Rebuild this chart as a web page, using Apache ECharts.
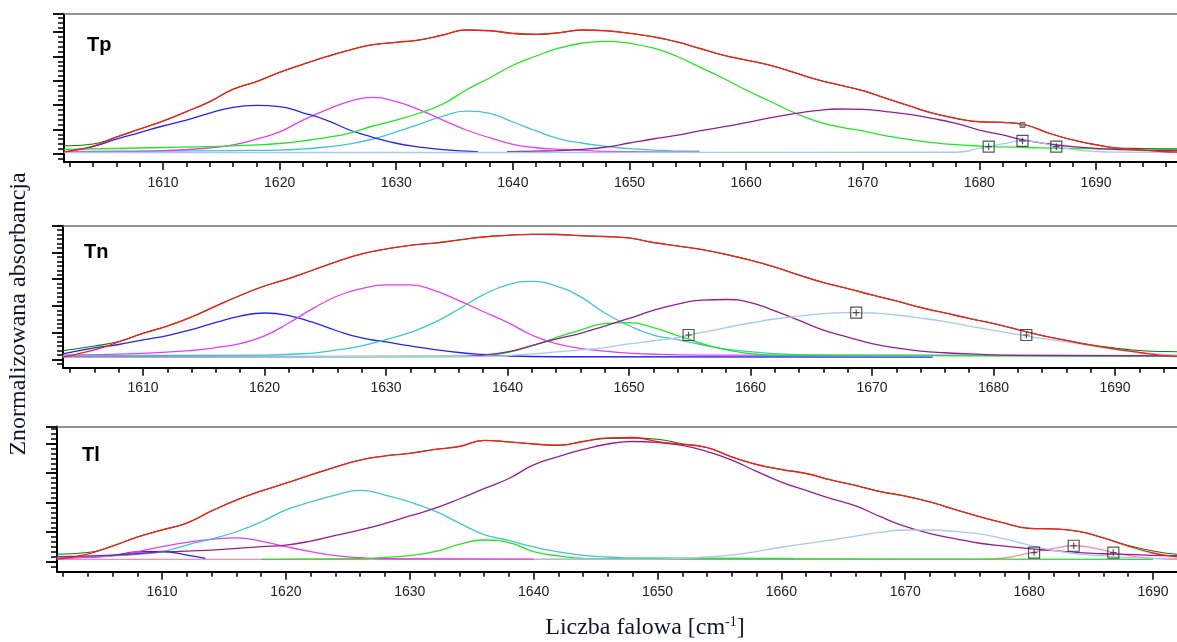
<!DOCTYPE html>
<html>
<head>
<meta charset="utf-8">
<script src="https://cdn.jsdelivr.net/npm/echarts@6/dist/echarts.min.js"></script>
<style>
  html, body { margin: 0; padding: 0; background: #fff; }
  #chart { width: 1177px; height: 642px; }
</style>
</head>
<body>
<div id="chart"></div>
<script>
// ---- Amide I band deconvolution: three samples (Tp, Tn, Tl) ----
// Values are normalized absorbance vs. wavenumber [cm-1], as [x, y] pairs.

const panelNames = ['Tp', 'Tn', 'Tl'];
const xTickLabels = [1610, 1620, 1630, 1640, 1650, 1660, 1670, 1680, 1690];
const tpYTicks = [0, 0.2, 0.4, 0.6, 0.8, 1.0, 1.1498];
const tnYTicks = [0, 0.2, 0.4, 0.6, 0.8, 1.0];
const tlYTicks = [0, 0.2, 0.4, 0.6, 0.8, 0.9166];

// Tp
const tpMeasured = [[1601.5,0.016],[1602,0.022],[1604,0.063],[1606,0.137],[1608,0.203],[1610,0.269],[1612,0.346],[1614,0.428],[1616,0.530],[1618,0.593],[1620,0.670],[1622,0.736],[1624,0.798],[1626,0.853],[1628,0.897],[1630,0.917],[1632,0.936],[1634,0.977],[1636,1.018],[1638,1.012],[1640,0.991],[1642,0.983],[1644,0.996],[1646,1.018],[1648,1.012],[1650,0.991],[1652,0.963],[1654,0.922],[1656,0.867],[1658,0.812],[1660,0.771],[1662,0.730],[1664,0.672],[1666,0.612],[1668,0.565],[1670,0.519],[1672,0.456],[1674,0.393],[1676,0.333],[1678,0.291],[1680,0.263],[1682,0.258],[1684,0.236],[1686,0.168],[1688,0.113],[1690,0.072],[1692,0.044],[1694,0.030],[1696,0.016],[1697,0.014]];
const tpFit = [[1601.5,0.066],[1602,0.066],[1604,0.080],[1606,0.137],[1608,0.203],[1610,0.269],[1612,0.346],[1614,0.428],[1616,0.530],[1618,0.593],[1620,0.670],[1622,0.736],[1624,0.798],[1626,0.853],[1628,0.897],[1630,0.917],[1632,0.936],[1634,0.977],[1636,1.018],[1638,1.012],[1640,0.989],[1642,0.981],[1644,0.996],[1646,1.018],[1648,1.012],[1650,0.991],[1652,0.963],[1654,0.922],[1656,0.867],[1658,0.812],[1660,0.771],[1662,0.730],[1664,0.672],[1666,0.612],[1668,0.565],[1670,0.519],[1672,0.456],[1674,0.393],[1676,0.333],[1678,0.291],[1680,0.263],[1682,0.258],[1684,0.236],[1686,0.168],[1688,0.113],[1690,0.075],[1692,0.047],[1694,0.043],[1696,0.039],[1697,0.039]];
const tpBlue = [[1601.5,0.014],[1602,0.022],[1604,0.059],[1606,0.119],[1608,0.173],[1610,0.228],[1612,0.277],[1614,0.333],[1616,0.382],[1618,0.398],[1620,0.387],[1622,0.337],[1624,0.277],[1626,0.195],[1628,0.135],[1630,0.086],[1632,0.055],[1634,0.033],[1636,0.022],[1637,0.016]];
const tpMagenta = [[1601.5,0.014],[1606,0.018],[1610,0.025],[1614,0.047],[1616,0.072],[1618,0.119],[1620,0.179],[1622,0.277],[1624,0.360],[1626,0.431],[1628,0.463],[1630,0.428],[1632,0.360],[1634,0.277],[1636,0.195],[1638,0.132],[1640,0.077],[1642,0.049],[1644,0.036],[1646,0.028],[1648,0.018],[1656,0.012]];
const tpLime = [[1601.5,0.036],[1606,0.043],[1610,0.051],[1614,0.059],[1618,0.072],[1620,0.084],[1622,0.105],[1624,0.133],[1626,0.170],[1628,0.228],[1630,0.277],[1632,0.335],[1634,0.409],[1636,0.524],[1638,0.623],[1640,0.728],[1642,0.804],[1644,0.870],[1646,0.911],[1648,0.925],[1650,0.909],[1652,0.870],[1654,0.804],[1656,0.714],[1658,0.623],[1660,0.524],[1662,0.434],[1664,0.343],[1666,0.269],[1668,0.220],[1670,0.187],[1672,0.146],[1674,0.117],[1676,0.092],[1678,0.074],[1680,0.063],[1684,0.051],[1688,0.043],[1697,0.039]];
const tpCyan = [[1601.5,0.018],[1610,0.022],[1616,0.026],[1620,0.030],[1622,0.039],[1624,0.055],[1626,0.080],[1628,0.121],[1630,0.179],[1632,0.244],[1634,0.310],[1636,0.351],[1638,0.331],[1640,0.261],[1642,0.187],[1644,0.123],[1646,0.086],[1648,0.061],[1650,0.041],[1652,0.030],[1654,0.022],[1656,0.020]];
const tpPurple = [[1639.5,0.016],[1642,0.021],[1644,0.026],[1646,0.036],[1648,0.055],[1650,0.088],[1652,0.121],[1654,0.150],[1656,0.187],[1658,0.220],[1660,0.255],[1662,0.294],[1664,0.327],[1666,0.354],[1668,0.368],[1670,0.364],[1672,0.347],[1674,0.323],[1676,0.290],[1678,0.249],[1680,0.195],[1682,0.154],[1684,0.109],[1686,0.080],[1688,0.058],[1690,0.043],[1692,0.033],[1697,0.025]];
const tpPale = [[1601.5,0.010],[1640,0.010],[1678,0.012],[1680,0.043],[1682,0.080],[1683.7,0.105],[1685,0.096],[1686.6,0.058],[1688,0.035],[1690,0.018],[1692,0.013],[1697,0.012]];
const tpMarks = [[1680.8,0.058],[1683.7,0.105],[1686.6,0.058]];
const tpPeakDot = [[1683.7,0.236]];

// Tn
const tnMeasured = [[1603.4,0.017],[1606,0.070],[1608,0.130],[1610,0.195],[1612,0.249],[1614,0.317],[1616,0.399],[1618,0.478],[1620,0.549],[1622,0.605],[1624,0.669],[1626,0.733],[1628,0.789],[1630,0.826],[1632,0.854],[1634,0.871],[1636,0.894],[1638,0.916],[1640,0.929],[1642,0.936],[1644,0.935],[1646,0.926],[1648,0.920],[1650,0.909],[1652,0.875],[1654,0.849],[1656,0.822],[1658,0.785],[1660,0.742],[1662,0.691],[1664,0.631],[1666,0.575],[1668,0.530],[1670,0.482],[1672,0.437],[1674,0.388],[1676,0.347],[1678,0.306],[1680,0.268],[1682,0.223],[1684,0.178],[1686,0.141],[1688,0.107],[1690,0.077],[1692,0.051],[1694,0.028],[1695.2,0.021]];
const tnFit = [[1603.4,0.064],[1606,0.100],[1608,0.133],[1610,0.195],[1612,0.249],[1614,0.317],[1616,0.399],[1618,0.478],[1620,0.549],[1622,0.605],[1624,0.669],[1626,0.733],[1628,0.789],[1630,0.826],[1632,0.854],[1634,0.871],[1636,0.894],[1638,0.916],[1640,0.929],[1642,0.937],[1644,0.936],[1646,0.926],[1648,0.920],[1650,0.909],[1652,0.875],[1654,0.849],[1656,0.822],[1658,0.785],[1660,0.742],[1662,0.691],[1664,0.631],[1666,0.575],[1668,0.530],[1670,0.482],[1672,0.437],[1674,0.388],[1676,0.347],[1678,0.306],[1680,0.268],[1682,0.223],[1684,0.178],[1686,0.141],[1688,0.109],[1690,0.085],[1692,0.066],[1694,0.058],[1695.2,0.057]];
const tnBlue = [[1603.4,0.040],[1606,0.085],[1608,0.111],[1610,0.145],[1612,0.178],[1614,0.223],[1616,0.276],[1618,0.324],[1620,0.347],[1622,0.328],[1624,0.276],[1626,0.212],[1628,0.160],[1630,0.130],[1632,0.100],[1634,0.073],[1636,0.051],[1638,0.036],[1640,0.025],[1644,0.019],[1675,0.017]];
const tnMagenta = [[1603.4,0.032],[1610,0.045],[1614,0.066],[1616,0.088],[1618,0.118],[1620,0.175],[1622,0.272],[1624,0.381],[1626,0.474],[1628,0.530],[1630,0.557],[1632,0.557],[1634,0.515],[1636,0.440],[1638,0.358],[1640,0.276],[1642,0.182],[1644,0.117],[1646,0.082],[1648,0.062],[1650,0.047],[1652,0.038],[1656,0.032],[1695.2,0.028]];
const tnCyan = [[1603.4,0.028],[1620,0.032],[1624,0.047],[1626,0.070],[1628,0.100],[1630,0.148],[1632,0.201],[1634,0.276],[1636,0.377],[1638,0.482],[1640,0.557],[1642,0.583],[1644,0.549],[1646,0.469],[1648,0.347],[1650,0.253],[1652,0.182],[1654,0.147],[1656,0.109],[1658,0.077],[1660,0.058],[1662,0.043],[1666,0.032],[1695.2,0.028]];
const tnPurple = [[1603.4,0.019],[1636,0.022],[1638,0.032],[1640,0.055],[1642,0.103],[1644,0.152],[1646,0.195],[1648,0.249],[1650,0.306],[1652,0.366],[1654,0.414],[1656,0.444],[1658,0.448],[1660,0.425],[1662,0.362],[1664,0.291],[1666,0.219],[1668,0.167],[1670,0.118],[1672,0.085],[1674,0.062],[1676,0.049],[1678,0.040],[1682,0.030],[1695.2,0.026]];
const tnLime = [[1603.4,0.017],[1636,0.021],[1638,0.028],[1640,0.051],[1642,0.100],[1644,0.163],[1646,0.219],[1648,0.268],[1650,0.274],[1652,0.238],[1654,0.178],[1656,0.118],[1658,0.070],[1660,0.043],[1662,0.030],[1695.2,0.022]];
const tnPale = [[1603.4,0.017],[1638,0.021],[1640,0.028],[1642,0.040],[1644,0.055],[1646,0.070],[1648,0.088],[1650,0.115],[1652,0.139],[1654,0.163],[1656,0.201],[1658,0.238],[1660,0.272],[1662,0.302],[1664,0.324],[1666,0.342],[1668,0.349],[1670,0.347],[1672,0.332],[1674,0.309],[1676,0.282],[1678,0.249],[1680,0.216],[1682,0.187],[1684,0.156],[1686,0.130],[1688,0.103],[1690,0.075],[1692,0.051],[1694,0.036],[1695.2,0.032]];
const tnMarks = [[1654.9,0.182],[1668.7,0.349],[1682.7,0.182]];

// Tl
const tlMeasured = [[1601.5,0.016],[1604,0.052],[1606,0.106],[1608,0.167],[1610,0.215],[1612,0.262],[1614,0.344],[1616,0.418],[1618,0.479],[1620,0.532],[1622,0.588],[1624,0.642],[1626,0.689],[1628,0.717],[1630,0.735],[1632,0.761],[1634,0.781],[1636,0.822],[1638,0.812],[1640,0.798],[1642,0.788],[1644,0.815],[1646,0.839],[1648,0.842],[1650,0.814],[1652,0.795],[1654,0.774],[1656,0.710],[1658,0.659],[1660,0.625],[1662,0.598],[1664,0.554],[1666,0.517],[1668,0.475],[1670,0.445],[1672,0.405],[1674,0.354],[1676,0.305],[1678,0.262],[1680,0.226],[1682,0.222],[1684,0.205],[1686,0.161],[1688,0.106],[1690,0.059],[1692,0.032]];
const tlFit = [[1601.5,0.050],[1604,0.062],[1606,0.106],[1608,0.167],[1610,0.215],[1612,0.262],[1614,0.344],[1616,0.418],[1618,0.479],[1620,0.532],[1622,0.588],[1624,0.642],[1626,0.689],[1628,0.717],[1630,0.735],[1632,0.761],[1634,0.781],[1636,0.822],[1638,0.812],[1640,0.798],[1642,0.790],[1644,0.815],[1646,0.835],[1648,0.838],[1650,0.830],[1652,0.800],[1654,0.774],[1656,0.710],[1658,0.659],[1660,0.625],[1662,0.598],[1664,0.554],[1666,0.517],[1668,0.475],[1670,0.445],[1672,0.405],[1674,0.354],[1676,0.305],[1678,0.262],[1680,0.226],[1682,0.222],[1684,0.205],[1686,0.161],[1688,0.110],[1690,0.073],[1692,0.050]];
const tlCyan = [[1601.5,0.032],[1606,0.039],[1608,0.049],[1610,0.068],[1612,0.113],[1614,0.154],[1616,0.203],[1618,0.269],[1620,0.351],[1622,0.405],[1624,0.452],[1626,0.483],[1628,0.452],[1630,0.405],[1632,0.344],[1634,0.262],[1636,0.184],[1638,0.144],[1640,0.100],[1642,0.066],[1644,0.043],[1646,0.032],[1648,0.025],[1661,0.023]];
const tlMagenta = [[1601.5,0.025],[1604,0.030],[1606,0.039],[1608,0.068],[1610,0.102],[1612,0.131],[1614,0.152],[1616,0.161],[1618,0.140],[1620,0.102],[1622,0.068],[1624,0.041],[1626,0.027],[1628,0.020],[1640,0.018]];
const tlPurple = [[1601.5,0.034],[1606,0.045],[1610,0.066],[1614,0.079],[1618,0.102],[1620,0.113],[1622,0.140],[1624,0.178],[1626,0.215],[1628,0.259],[1630,0.310],[1632,0.361],[1634,0.425],[1636,0.495],[1638,0.564],[1640,0.656],[1642,0.713],[1644,0.761],[1646,0.798],[1648,0.815],[1650,0.809],[1652,0.788],[1654,0.747],[1656,0.689],[1658,0.612],[1660,0.540],[1662,0.483],[1664,0.428],[1666,0.378],[1668,0.305],[1670,0.239],[1672,0.191],[1674,0.157],[1676,0.125],[1678,0.106],[1680,0.089],[1682,0.075],[1684,0.062],[1686,0.054],[1690,0.043],[1692,0.041]];
const tlLime = [[1618,0.016],[1626,0.020],[1628,0.030],[1630,0.041],[1632,0.068],[1634,0.117],[1636,0.147],[1638,0.130],[1640,0.068],[1642,0.039],[1644,0.023],[1650,0.020],[1690,0.016]];
const tlBlue = [[1601.5,0.028],[1604,0.032],[1606,0.042],[1608,0.066],[1610,0.069],[1612,0.045],[1613.5,0.023]];
const tlPale = [[1640,0.018],[1650,0.018],[1652,0.023],[1654,0.032],[1656,0.045],[1658,0.069],[1660,0.098],[1662,0.122],[1664,0.147],[1666,0.174],[1668,0.199],[1670,0.215],[1672,0.215],[1674,0.205],[1676,0.188],[1678,0.154],[1680,0.113],[1682,0.076],[1684,0.052],[1686,0.039],[1688,0.028],[1690,0.023],[1692,0.022]];
const tlPink = [[1601.5,0.016],[1676,0.016],[1678,0.025],[1680,0.058],[1682,0.090],[1683.6,0.108],[1685,0.096],[1686.8,0.062],[1688,0.042],[1690,0.023],[1692,0.016]];
const tlMarks = [[1680.4,0.062],[1683.6,0.108],[1686.8,0.062]];

// ---- colours ----
const C = {
  measured: '#ff1a1a', fit: '#0a7d0a', blue: '#2323ff', magenta: '#e43ff0',
  lime: '#22e622', cyan: '#3fc6d0', purple: '#951e95', pale: '#a9c8ef', pink: '#ff88b6'
};

function steps(a, b, s) {
  const out = [];
  for (let k = 0; a + k * s <= b + 1e-9; k++) out.push(+(a + k * s).toFixed(5));
  return out;
}

// Layout of the three stacked plots
const layout = [
  { grid: { left: 64, top: 14, height: 148 }, x: [1601.51, 1696.95], y: [-0.0683, 1.1498],
    yMajor: tpYTicks, yMinor: steps(-0.04, 1.12, 0.04), xMinor: steps(1602, 1696, 2), labelMargin: 14, tag: [87, 45] },
  { grid: { left: 63, top: 225.8, height: 141.9 }, x: [1603.42, 1695.1], y: [-0.0629, 1.0],
    yMajor: tnYTicks, yMinor: steps(-0.2 / 6, 1.0, 0.2 / 6), xMinor: steps(1604, 1694, 2), labelMargin: 13, tag: [84, 252.5] },
  { grid: { left: 57, top: 426.5, height: 145.2 }, x: [1601.52, 1691.94], y: [-0.0678, 0.9166],
    yMajor: tlYTicks, yMinor: steps(-0.2 / 6, 0.9, 0.2 / 6), xMinor: steps(1602, 1690, 2), labelMargin: 13, tag: [82, 455] }
];

const panelCurves = [
  [[tpCyan, C.cyan], [tpMagenta, C.magenta], [tpBlue, C.blue], [tpLime, C.lime], [tpPurple, C.purple], [tpPale, C.pale], [tpFit, C.fit], [tpMeasured, C.measured]],
  [[tnBlue, C.blue], [tnMagenta, C.magenta], [tnCyan, C.cyan], [tnLime, C.lime], [tnPurple, C.purple], [tnPale, C.pale], [tnFit, C.fit], [tnMeasured, C.measured]],
  [[tlPink, C.pink], [tlBlue, C.blue], [tlMagenta, C.magenta], [tlCyan, C.cyan], [tlLime, C.lime], [tlPurple, C.purple], [tlPale, C.pale], [tlFit, C.fit], [tlMeasured, C.measured]]
];
const panelMarks = [tpMarks, tnMarks, tlMarks];

const grids = [], xAxes = [], yAxes = [], series = [], graphics = [];
const black = '#000';

layout.forEach((p, i) => {
  grids.push({ left: p.grid.left, right: 0, top: p.grid.top, height: p.grid.height, containLabel: false });
  const xBase = { type: 'value', gridIndex: i, min: p.x[0], max: p.x[1], splitLine: { show: false } };
  // main bottom axis with labelled ticks
  xAxes.push(Object.assign({}, xBase, {
    position: 'bottom',
    axisLine: { show: true, onZero: false, lineStyle: { color: black, width: 2 } },
    axisTick: { show: true, length: 8, customValues: xTickLabels, lineStyle: { color: black, width: 1.5 } },
    axisLabel: { show: true, customValues: xTickLabels, margin: p.labelMargin, fontSize: 14,
      fontFamily: 'Liberation Sans, Arial, sans-serif', color: '#222', formatter: v => String(v) }
  }));
  // minor ticks along the bottom
  xAxes.push(Object.assign({}, xBase, {
    position: 'bottom',
    axisLine: { show: false, onZero: false },
    axisTick: { show: true, length: 5, customValues: p.xMinor, lineStyle: { color: black, width: 1.5 } },
    axisLabel: { show: false }
  }));
  // frame line on top
  xAxes.push(Object.assign({}, xBase, {
    position: 'top',
    axisLine: { show: true, onZero: false, lineStyle: { color: '#6f6f6f', width: 1.5 } },
    axisTick: { show: false }, axisLabel: { show: false }
  }));

  const yBase = { type: 'value', gridIndex: i, min: p.y[0], max: p.y[1], position: 'left', splitLine: { show: false } };
  yAxes.push(Object.assign({}, yBase, {
    axisLine: { show: true, onZero: false, lineStyle: { color: black, width: 2 } },
    axisTick: { show: true, length: 11, customValues: p.yMajor, lineStyle: { color: black, width: 1.8 } },
    axisLabel: { show: false }
  }));
  yAxes.push(Object.assign({}, yBase, {
    axisLine: { show: false, onZero: false },
    axisTick: { show: true, length: 6, customValues: p.yMinor, lineStyle: { color: black, width: 1.5 } },
    axisLabel: { show: false }
  }));

  panelCurves[i].forEach(([data, color]) => {
    const isFit = color === C.fit;
    series.push({
      type: 'line', xAxisIndex: 3 * i, yAxisIndex: 2 * i, data,
      showSymbol: false, smooth: true, silent: true,
      lineStyle: { color, width: isFit ? 1.1 : 1.3 }, itemStyle: { color }
    });
  });

  series.push({
    type: 'scatter', xAxisIndex: 3 * i, yAxisIndex: 2 * i, data: panelMarks[i], silent: true,
    symbol: 'path://M0,0L10,0L10,10L0,10Z M5,2L5,8 M2,5L8,5', symbolSize: 11,
    itemStyle: { color: 'rgba(255,255,255,0)', borderColor: '#2a2a2a', borderWidth: 1.2 }, z: 5
  });

  graphics.push({
    type: 'text', left: p.tag[0], top: p.tag[1] - 10,
    style: { text: panelNames[i], font: 'bold 20px "Liberation Sans", Arial, sans-serif', fill: '#000' }
  });
});

// small peak-position dot on the Tp measured curve
series.push({
  type: 'scatter', xAxisIndex: 0, yAxisIndex: 0, data: tpPeakDot, silent: true,
  symbol: 'rect', symbolSize: 5, itemStyle: { color: '#8c8c8c', borderColor: '#555', borderWidth: 1 }, z: 6
});

// axis titles
graphics.push({
  type: 'text', x: 19, y: 314, rotation: Math.PI / 2,
  style: { text: 'Znormalizowana absorbancja', font: '24px "Liberation Serif", "Times New Roman", serif',
    fill: '#15152a', align: 'center', verticalAlign: 'middle' }
});
graphics.push({
  type: 'text', x: 645, y: 628,
  style: {
    text: '{m|Liczba falowa [cm}{s|-1}{m|]}',
    align: 'center', verticalAlign: 'middle',
    rich: {
      m: { fontFamily: '"Liberation Serif", "Times New Roman", serif', fontSize: 24, fill: '#15152a', lineHeight: 26 },
      s: { fontFamily: '"Liberation Serif", "Times New Roman", serif', fontSize: 14, fill: '#15152a', lineHeight: 26, verticalAlign: 'top' }
    }
  }
});

const chart = echarts.init(document.getElementById('chart'), null, { renderer: 'canvas' });
chart.setOption({
  animation: false,
  backgroundColor: '#fff',
  grid: grids,
  xAxis: xAxes,
  yAxis: yAxes,
  series,
  graphic: graphics
});
</script>
</body>
</html>
